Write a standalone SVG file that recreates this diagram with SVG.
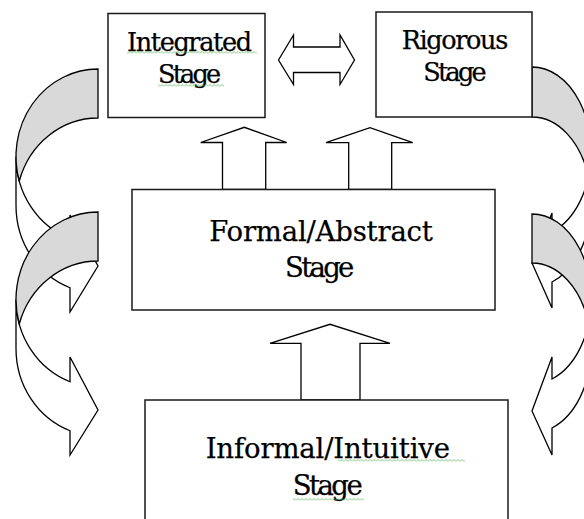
<svg xmlns="http://www.w3.org/2000/svg" width="584" height="519" viewBox="0 0 584 519">
<defs>
<pattern id="sq" width="4" height="3" patternUnits="userSpaceOnUse">
<path d="M0,2.5 L2,0.5 L4,2.5" fill="none" stroke="#5cb85c" stroke-width="0.8"/>
</pattern>
</defs>
<style>
.box{fill:#fff;stroke:#1a1a1a;stroke-width:1.5}
.t{font-family:"DejaVu Serif","Liberation Serif",serif;fill:#000;text-anchor:middle;stroke:#000;stroke-width:0.25}
.s{font-size:25.5px}
.l{font-size:27.5px}
.ar{fill:#fff;stroke:#000;stroke-width:1.3;stroke-linejoin:miter}
.bk{fill:#d9d9d9;stroke:#000;stroke-width:1.3}
.sq{fill:url(#sq)}
</style>
<rect width="584" height="519" fill="#fff"/>
<g id="connectors">
<g id="curve-left-upper">
<path class="ar" d="M16,156.5 A82,87.5 0 0 0 70,238.74 L70,215 L98,266 L70,312 L70,287.74 A82,87.5 0 0 1 16,205.5 Z"/>
<path class="bk" d="M98,118 A82,87.5 0 0 0 19.28,181 A82,87.5 0 0 1 98,69 Z"/>
</g>
<g id="curve-left-lower">
<path class="ar" d="M16,299.5 A82,87.5 0 0 0 70,381.74 L70,357 L98,410 L70,455 L70,430.74 A82,87.5 0 0 1 16,348.5 Z"/>
<path class="bk" d="M98,261 A82,87.5 0 0 0 19.28,324 A82,87.5 0 0 1 98,212 Z"/>
</g>
<g id="curve-right-upper">
<path class="ar" d="M591,152 A59,85 0 0 1 552,231.97 L552,213 L532,263 L552,308 L552,281.97 A59,85 0 0 0 591,202 Z"/>
<path class="bk" d="M532,117 A59,85 0 0 1 588.4,177 A59,85 0 0 0 532,67 Z"/>
</g>
<g id="curve-right-lower">
<path class="ar" d="M591,299 A59,85 0 0 1 552,378.97 L552,357 L532,411 L552,455 L552,427.97 A59,85 0 0 0 591,348 Z"/>
<path class="bk" d="M532,263 A59,85 0 0 1 588.5,323.5 A59,85 0 0 0 532,214 Z"/>
</g>
<polygon id="double-arrow" class="ar" points="278.5,60 293.5,35 293.5,47 340,47 340,35 354.5,60 340,84.5 340,72.5 293.5,72.5 293.5,84.5"/>
<polygon id="up-1" class="ar" points="222.5,189.5 222.5,142.5 200.7,142.5 244.3,127.3 286.7,142.5 265.7,142.5 265.7,189.5"/>
<polygon id="up-2" class="ar" points="348.7,189.5 348.7,142.7 326,142.7 370,127.7 412.7,142.7 391.7,142.7 391.7,189.5"/>
<polygon id="up-3" class="ar" points="301,400 301,343.3 270,343.3 330,324.3 390,343.3 360,343.3 360,400"/>
</g>
<g id="integrated">
<rect class="box" x="108" y="13.5" width="157" height="104"/>
<text class="t s" x="189.5" y="51" textLength="125" lengthAdjust="spacing">Integrated</text>
<text class="t s" x="189.5" y="82.5" textLength="63" lengthAdjust="spacing">Stage</text>
<rect class="sq" x="127" y="51" width="130" height="3"/>
<rect class="sq" x="158" y="84" width="66" height="3"/>
</g>
<g id="rigorous">
<rect class="box" x="376" y="12" width="156" height="105"/>
<text class="t s" x="455" y="48.5" textLength="106.5" lengthAdjust="spacing">Rigorous</text>
<text class="t s" x="455" y="81" textLength="63.4" lengthAdjust="spacing">Stage</text>
</g>
<g id="formal">
<rect class="box" x="132" y="189.5" width="363" height="120.5"/>
<text class="t l" x="321" y="241" textLength="223.7" lengthAdjust="spacing">Formal/Abstract</text>
<text class="t l" x="319.7" y="276.7" textLength="69.3" lengthAdjust="spacing">Stage</text>
</g>
<g id="informal">
<rect class="box" x="145" y="400" width="363" height="140"/>
<text class="t l" x="327.8" y="458.3" textLength="244.3" lengthAdjust="spacing">Informal/Intuitive</text>
<text class="t l" x="327.7" y="495" textLength="70" lengthAdjust="spacing">Stage</text>
<rect class="sq" x="338" y="459" width="127" height="3"/>
<rect class="sq" x="293" y="498" width="71" height="3"/>
</g>
</svg>
